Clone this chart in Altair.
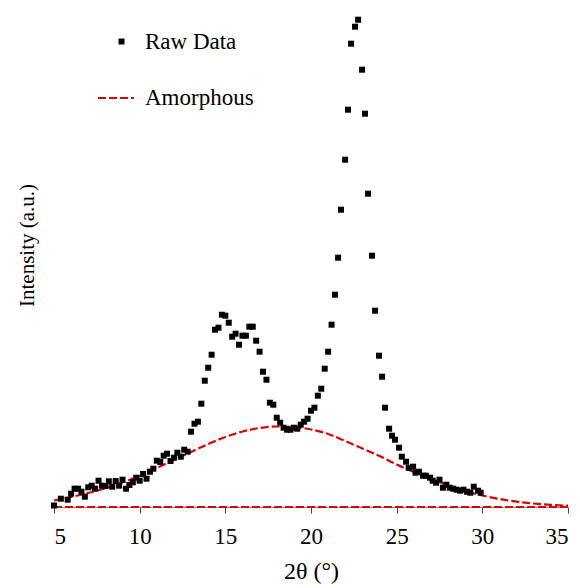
import altair as alt
import pandas as pd

# ---- data (intensity in arbitrary units) ----
raw_x = [5.0, 5.4, 5.8, 6.0, 6.2, 6.4, 6.6, 6.8, 7.0, 7.2, 7.4, 7.6, 7.8, 8.0, 8.2, 8.4, 8.6, 8.8,
         9.0, 9.2, 9.4, 9.6, 9.8, 10.0, 10.2, 10.4, 10.6, 10.8, 11.0, 11.2, 11.4, 11.6, 11.8, 12.0,
         12.2, 12.4, 12.6, 12.8, 13.0, 13.2, 13.4, 13.6, 13.8, 14.0, 14.2, 14.4, 14.6, 14.8, 15.0,
         15.2, 15.4, 15.6, 15.8, 16.0, 16.2, 16.4, 16.6, 16.8, 17.0, 17.2, 17.4, 17.6, 17.8, 18.0,
         18.2, 18.4, 18.6, 18.8, 19.0, 19.2, 19.4, 19.6, 19.8, 20.0, 20.2, 20.4, 20.6, 20.8, 21.0,
         21.2, 21.4, 21.58, 21.75, 21.99, 22.16, 22.34, 22.57, 22.75, 22.98, 23.15, 23.33, 23.56,
         23.74, 23.97, 24.15, 24.32, 24.56, 24.73, 24.9, 25.14, 25.3, 25.55, 25.7, 25.96, 26.1,
         26.3, 26.54, 26.7, 26.95, 27.1, 27.3, 27.5, 27.7, 27.9, 28.1, 28.3, 28.5, 28.7, 28.9,
         29.1, 29.3, 29.5, 29.75, 29.9]
raw_y = [1.5, 8.3, 7.3, 13.3, 18.3, 18.3, 15.3, 10.3, 19.7, 21.3, 18.3, 26.3, 21.3, 21.0, 25.7, 20.3,
         26.0, 21.3, 27.3, 18.3, 22.0, 24.7, 29.3, 26.3, 33.0, 28.3, 35.3, 38.3, 46.3, 45.0, 51.3,
         53.3, 46.0, 49.3, 54.3, 50.3, 57.3, 55.3, 75.3, 83.3, 85.3, 103.3, 126.3, 139.3, 152.3,
         177.3, 179.3, 192.3, 191.3, 184.3, 170.3, 173.3, 162.3, 171.3, 171.3, 180.3, 180.3, 166.3,
         155.3, 135.3, 127.3, 104.3, 102.3, 89.3, 84.3, 79.3, 77.3, 77.3, 79.3, 78.3, 82.3, 85.3,
         88.3, 96.3, 99.3, 111.3, 118.3, 138.3, 155.3, 182.3, 212.3, 249.3, 297.3, 347.3, 397.3,
         463.3, 480.3, 487.3, 437.3, 393.3, 313.3, 251.3, 196.3, 151.3, 130.3, 99.3, 78.3, 71.3,
         67.3, 59.3, 50.3, 45.3, 39.3, 40.3, 34.3, 35.3, 31.3, 31.3, 29.3, 26.3, 24.3, 27.3, 19.3,
         22.3, 19.3, 18.3, 17.3, 16.3, 17.3, 15.3, 14.3, 20.3, 16.3, 14.3]

amor_x = [5, 6, 7, 8, 9, 10, 11, 12, 13, 14, 15, 16, 17, 18, 19, 20, 21, 22, 23, 24, 25, 26, 27,
          28, 29, 30, 31, 32, 33, 34, 35]
amor_y = [6.5, 10.0, 14.0, 18.7, 24.5, 31.0, 39.0, 47.0, 55.0, 63.0, 70.0, 75.5, 79.0, 80.5, 80.0,
          77.5, 73.0, 66.0, 58.5, 51.0, 42.5, 35.0, 28.5, 21.5, 16.0, 11.5, 8.0, 5.3, 3.5, 2.1, 1.3]

base_x = [5, 35]
base_y = [0, 0]

raw = pd.DataFrame({"x": raw_x, "y": raw_y, "series": "Raw Data"})
amor = pd.DataFrame({"x": amor_x, "y": amor_y, "series": "Amorphous"})
base = pd.DataFrame({"x": base_x, "y": base_y, "series": "Amorphous"})

FONT = "Liberation Serif"
RED = "#dd0000"

xscale = alt.Scale(domain=[5, 35], nice=False, zero=False)
yscale = alt.Scale(domain=[0, 507], nice=False)

xaxis = alt.Axis(
    title="2θ (°)", values=[5, 10, 15, 20, 25, 30, 35], format="d", grid=False,
    labelFont=FONT, labelFontSize=23, labelColor="black", labelPadding=12,
    titleFont=FONT, titleFontSize=24, titleFontWeight="normal", titleColor="black",
    titlePadding=11, tickSize=6, tickColor="#444444", domainColor="#888888",
)
yaxis = alt.Axis(
    title="Intensity (a.u.)", labels=False, ticks=False, domain=False, grid=False,
    titleFont=FONT, titleFontSize=21, titleFontWeight="normal", titleColor="black",
    titleX=-27, titleY=245, titleAngle=270, titleAlign="center", titleBaseline="middle",
)

points = alt.Chart(raw).mark_point(filled=True, size=36, color="black", opacity=1).encode(
    x=alt.X("x:Q", scale=xscale, axis=xaxis),
    y=alt.Y("y:Q", scale=yscale, axis=yaxis),
    shape=alt.Shape(
        "series:N",
        scale=alt.Scale(domain=["Raw Data"], range=["square"]),
        legend=alt.Legend(
            title=None, orient="none", legendX=56, legendY=30, padding=0,
            labelFont=FONT, labelFontSize=23, labelColor="black", labelOffset=12,
            symbolFillColor="black", symbolStrokeColor="black", symbolSize=36,
            symbolStrokeWidth=0,
        ),
    ),
)

dash_scale = alt.Scale(domain=["Amorphous"], range=[[8, 3]])
dash_legend = alt.Legend(
    title=None, orient="none", legendX=43, legendY=79, padding=0,
    labelFont=FONT, labelFontSize=23, labelColor="black", labelOffset=10,
    symbolType="stroke", symbolStrokeColor=RED, symbolStrokeWidth=2, symbolSize=1296,
)

amor_line = alt.Chart(amor).mark_line(color=RED, strokeWidth=2.2, interpolate="monotone").encode(
    x=alt.X("x:Q", scale=xscale, axis=xaxis),
    y=alt.Y("y:Q", scale=yscale, axis=yaxis),
    strokeDash=alt.StrokeDash("series:N", scale=dash_scale, legend=dash_legend),
)

base_line = alt.Chart(base).mark_line(color=RED, strokeWidth=2.2).encode(
    x=alt.X("x:Q", scale=xscale, axis=xaxis),
    y=alt.Y("y:Q", scale=yscale, axis=yaxis),
    strokeDash=alt.StrokeDash("series:N", scale=dash_scale, legend=dash_legend),
)

chart = alt.layer(base_line, amor_line, points).properties(
    width=514, height=507,
    autosize=alt.AutoSizeParams(type="none"),
    padding={"left": 54, "top": 0, "right": 12, "bottom": 81},
    background="white",
).configure(font=FONT).configure_axis(labelFont=FONT, titleFont=FONT).configure_legend(
    labelFont=FONT
).configure_view(stroke=None)

chart.save("out.html", embed_options={"renderer": "svg", "actions": False})
